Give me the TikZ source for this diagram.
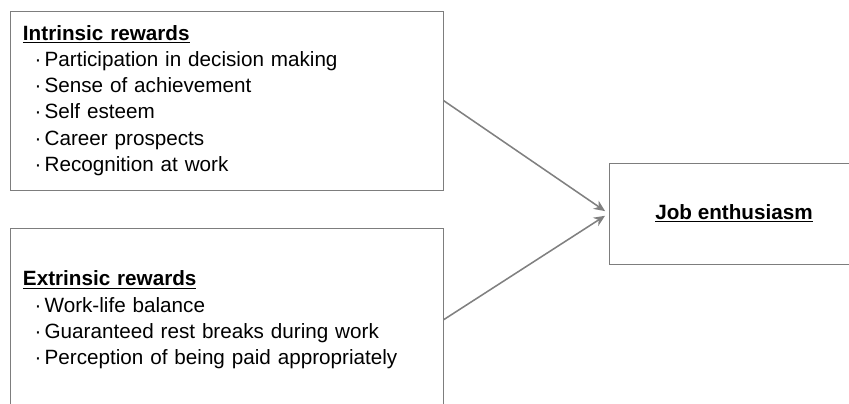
\documentclass[tikz,border=0pt]{standalone}
\usepackage{fontspec}
\setmainfont{Liberation Sans}
\usetikzlibrary{arrows.meta,positioning}

\definecolor{boxgray}{RGB}{125,125,125}
\definecolor{arrowgray}{RGB}{128,128,128}

\newcommand{\itm}[1]{\hspace*{8.3pt}·\hspace{2.2pt}#1}

\begin{document}
\begin{tikzpicture}[
  rewards/.style={rectangle, draw=boxgray, line width=0.6pt,
    minimum width=10.825cm, text width=10.175cm, inner xsep=0.325cm,
    align=left, font=\fontsize{14.7}{18.6}\selectfont},
  outcome/.style={rectangle, draw=boxgray, line width=0.6pt,
    minimum width=6.25cm, minimum height=2.525cm,
    align=center, font=\fontsize{14.7}{18.6}\selectfont\bfseries},
  arrow/.style={-{Stealth[length=8pt,width=7pt]}, draw=arrowgray,
    line width=1.1pt, shorten >=3pt}
]
\useasboundingbox (0,0) rectangle (21.225,-10.075);

\node[rewards, minimum height=4.475cm] (intrinsic) at (5.6625,-2.5125)
  {\underline{\textbf{Intrinsic rewards}}\\
   \itm{Participation in decision making}\\
   \itm{Sense of achievement}\\
   \itm{Self esteem}\\
   \itm{Career prospects}\\
   \itm{Recognition at work}};
\node[rewards, minimum height=4.55cm, below=0.95cm of intrinsic] (extrinsic)
  {\underline{\textbf{Extrinsic rewards}}\\
   \itm{Work-life balance}\\
   \itm{Guaranteed rest breaks during work}\\
   \itm{Perception of being paid appropriately}};

\node[outcome] (job) at (18.35,-5.3375) {\underline{Job enthusiasm}};

\foreach \from in {intrinsic,extrinsic} { \draw[arrow] (\from.east) -- (job.west); }
\end{tikzpicture}
\end{document}
